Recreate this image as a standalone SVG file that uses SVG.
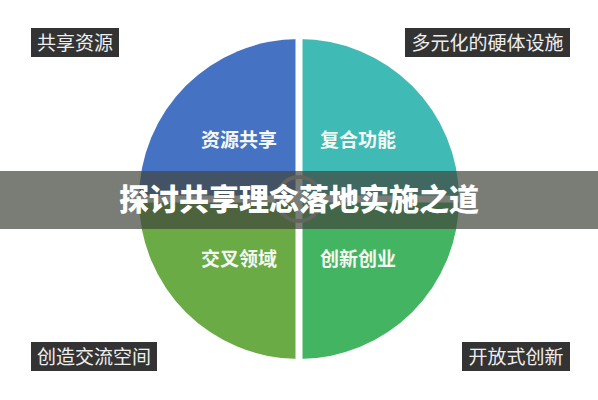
<svg xmlns="http://www.w3.org/2000/svg" width="598" height="400" viewBox="0 0 598 400">
<style>
.q{font-family:"Noto Sans CJK SC","Noto Sans",sans-serif;font-weight:bold;font-size:19px;fill:#f4f8f2;text-anchor:middle}
.bx{fill:#333333}
.bt{font-family:"Noto Sans CJK SC","Noto Sans",sans-serif;font-size:19px;fill:#eeeeee;text-anchor:middle}
.title{font-family:"Noto Sans CJK SC","Noto Sans",sans-serif;font-weight:900;font-size:30px;fill:#ffffff;text-anchor:middle}
</style>
<rect width="598" height="400" fill="#ffffff"/>
<g id="pie">
<g id="q-tl"><path d="M299,199 L139,199 A160,160 0 0 1 299,39 Z" fill="#4672c4"/><text class="q" x="239" y="147">资源共享</text></g>
<g id="q-tr"><path d="M299,199 L299,39 A160,160 0 0 1 459,199 Z" fill="#3fbab5"/><text class="q" x="358" y="147">复合功能</text></g>
<g id="q-bl"><path d="M299,199 L299,359 A160,160 0 0 1 139,199 Z" fill="#6aab45"/><text class="q" x="239" y="266">交叉领域</text></g>
<g id="q-br"><path d="M299,199 L459,199 A160,160 0 0 1 299,359 Z" fill="#43b462"/><text class="q" x="358" y="266">创新创业</text></g>
<line x1="299" y1="30" x2="299" y2="370" stroke="#ffffff" stroke-width="7"/>
<line x1="130" y1="199" x2="468" y2="199" stroke="#ffffff" stroke-width="7"/>
</g>
<g id="ring"><circle cx="299" cy="199" r="22" fill="none" stroke="#b0b0aa" stroke-width="4"/></g>
<g id="label-tl"><rect class="bx" x="31" y="28" width="88" height="29"/><text class="bt" x="75" y="50">共享资源</text></g>
<g id="label-tr"><rect class="bx" x="405" y="28" width="165" height="29"/><text class="bt" x="487.5" y="50">多元化的硬体设施</text></g>
<g id="label-bl"><rect class="bx" x="31" y="342" width="126" height="29"/><text class="bt" x="94" y="364">创造交流空间</text></g>
<g id="label-br"><rect class="bx" x="462" y="342" width="108" height="29"/><text class="bt" x="516" y="364">开放式创新</text></g>
<g id="band"><rect x="0" y="171" width="598" height="58" fill="#42443c" fill-opacity="0.7"/><text class="title" x="299" y="210">探讨共享理念落地实施之道</text></g>
</svg>
